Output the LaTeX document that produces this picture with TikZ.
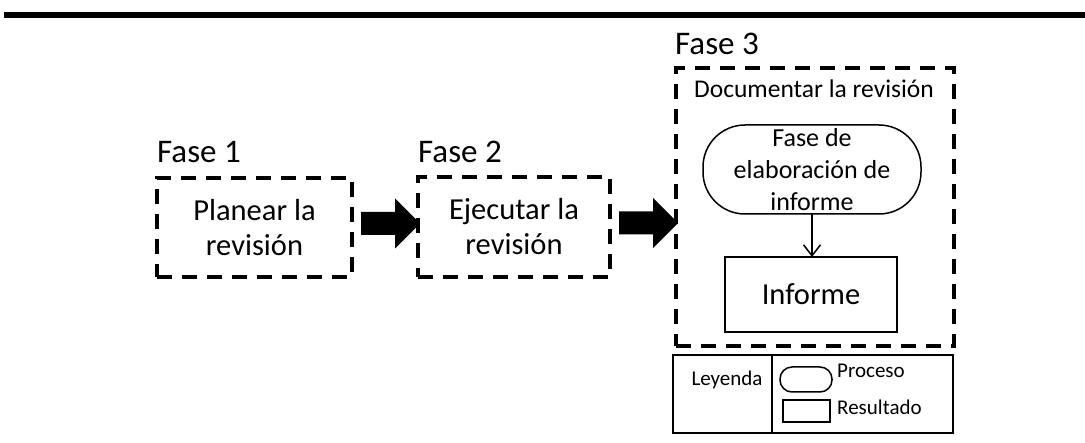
\documentclass[tikz,border=0pt]{standalone}
\usepackage{fontspec}
\setmainfont{Carlito}
\usetikzlibrary{positioning,calc,arrows.meta}
\newcommand{\flecha}[3]{%
	\coordinate (#3b) at ($(#1.east -| #2.west)+(2,-4)$);
	\fill[black] ($(#3b)+(-59,-11.5)$) -- ($(#3b)+(-25,-11.5)$) -- ($(#3b)+(-25,-25)$) -- (#3b)
		-- ($(#3b)+(-25,25)$) -- ($(#3b)+(-25,11.5)$) -- ($(#3b)+(-59,11.5)$) -- cycle;}

\begin{document}
\begin{tikzpicture}[x=1pt,y=-1pt,
	fase/.style={draw=black,line width=4pt,dash pattern=on 15pt off 10pt,inner sep=0pt,outer sep=0pt,align=center,font=\fontsize{30.5}{35}\selectfont},
	etiqueta/.style={anchor=base west,inner sep=0pt,font=\fontsize{33}{38}\selectfont},
	caja/.style={draw=black,line width=1.5pt,inner sep=0pt,outer sep=0pt}]
	\useasboundingbox (0,0) rectangle (1085,443);
	\fill[black] (4,12) rectangle (1085,18);
	
	\node[fase,minimum width=195pt,minimum height=99pt] (f1) at (254.5,227.5) {Planear la\\revisión};
	\node[fase,minimum width=192pt,minimum height=100pt] (f2) at (514,227) {Ejecutar la\\revisión};
	\node[fase,minimum width=278pt,minimum height=278pt] (f3) at (815,207) {};
	
	\node[etiqueta] (t1) at ($(f1.north west)+(0,-15)$) {Fase 1};
	\node[etiqueta] (t2) at ($(f2.north west)+(0,-14)$) {Fase 2};
	\node[etiqueta] (t3) at ($(f3.north west)+(-1,-13)$) {Fase 3};
	
	\flecha{f1}{f2}{a1}
	\flecha{f2}{f3}{a2}
	
	\node[anchor=base,inner sep=0pt,font=\fontsize{25.5}{30}\selectfont] (doc) at ($(f3.north)+(-1,30)$) {Documentar la revisión};
	\node[caja,rounded corners=42pt,minimum width=218pt,minimum height=89pt,align=center,font=\fontsize{26}{32}\selectfont] (proc) at (812,169.5) {Fase de\\elaboración de\\informe};
	\node[caja,minimum width=172pt,minimum height=75pt,font=\fontsize{30.5}{36}\selectfont] (inf) at (811,294.5) {Informe};
	\draw[line width=1.5pt,-{Straight Barb[length=11pt,width=17pt]}] (proc.south) -- (proc.south |- inf.north);
	
	% leyenda
	\node[caja,line width=2pt,minimum width=99pt,minimum height=78pt] (leyA) at (722.5,394) {};
	\node[caja,line width=2pt,minimum width=181pt,minimum height=78pt,right=0pt of leyA] (leyB) {};
	\node[anchor=base,inner sep=0pt,font=\fontsize{21}{24}\selectfont] (ley) at (727,386) {Leyenda};
	\node[caja,rounded corners=12pt,minimum width=52pt,minimum height=25pt] (lp) at (806,379.5) {};
	\node[caja,minimum width=47pt,minimum height=22pt] (lr) at (806.5,411) {};
	\node[anchor=base west,inner sep=0pt,font=\fontsize{21}{24}\selectfont] (lpt) at ($(lp.north east)+(5,11)$) {Proceso};
	\node[anchor=base west,inner sep=0pt,font=\fontsize{21}{24}\selectfont] (lrt) at ($(lr.east)+(7,4)$) {Resultado};
\end{tikzpicture}
\end{document}
